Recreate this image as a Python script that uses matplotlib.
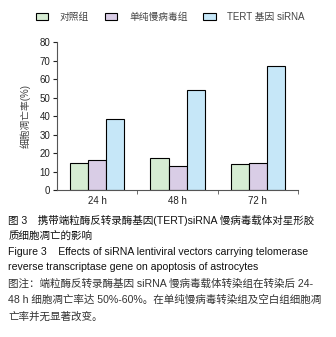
import matplotlib.pyplot as plt
import numpy as np

plt.rcParams['font.family'] = ['Liberation Sans', 'Noto Sans CJK SC']

groups = ['24 h', '48 h', '72 h']
series = ['对照组', '单纯慢病毒组', 'TERT 基因 siRNA']
control = [14.6, 17.1, 13.9]
lenti = [16.2, 13.0, 14.4]
sirna = [38.4, 54.0, 67.0]
colors = ['#d6ecd3', '#d9cde6', '#c6e7f8']

fig = plt.figure(figsize=(3.36, 3.37), dpi=100)
ax = fig.add_axes([0.170, 0.436, 0.717, 0.439])

x = np.arange(len(groups))
w = 0.225
for i, (vals, c, lab) in enumerate(zip([control, lenti, sirna], colors, series)):
    ax.bar(x + (i - 1) * w, vals, w, color=c, edgecolor='black', linewidth=0.8, label=lab)

ax.set_xlim(-0.5, 2.5)
ax.set_ylim(0, 80)
ax.set_yticks(range(0, 81, 10))
ax.set_xticks(x)
ax.set_xticklabels(groups)
ax.set_xticks([0.5, 1.5, 2.5], minor=True)
ax.tick_params(axis='x', which='major', length=0, labelsize=7, colors='#222222', pad=4)
ax.tick_params(axis='x', which='minor', length=3, color='#555555')
ax.tick_params(axis='y', length=3, labelsize=7, colors='#222222', pad=2)
for s in ['top', 'right']:
    ax.spines[s].set_visible(False)
for s in ['left', 'bottom']:
    ax.spines[s].set_color('#555555')
    ax.spines[s].set_linewidth(0.8)
ax.set_ylabel('细胞凋亡率(%)', fontsize=7, color='#444444', labelpad=6)

fig.legend(loc='upper left', bbox_to_anchor=(0.08, 0.99), ncol=3, frameon=False,
           fontsize=7, handlelength=1.3, handleheight=0.8, columnspacing=1.6,
           handletextpad=1.2, labelcolor='#444444')

lines = [
    ('图 3　携带端粒酶反转录酶基因(TERT)siRNA 慢病毒载体对星形胶', '#111111', 0.345),
    ('质细胞凋亡的影响', '#111111', 0.300),
    ('Figure 3    Effects of siRNA lentiviral vectors carrying telomerase', '#111111', 0.252),
    ('reverse transcriptase gene on apoptosis of astrocytes', '#111111', 0.207),
    ('图注：端粒酶反转录酶基因 siRNA 慢病毒载体转染组在转染后 24-', '#333333', 0.158),
    ('48 h 细胞凋亡率达 50%-60%。在单纯慢病毒转染组及空白组细胞凋', '#333333', 0.110),
    ('亡率并无显著改变。', '#333333', 0.062),
]
for txt, c, y in lines:
    fig.text(0.025, y, txt, fontsize=7.6, color=c, va='center')

fig.savefig('out.png', dpi=100)
